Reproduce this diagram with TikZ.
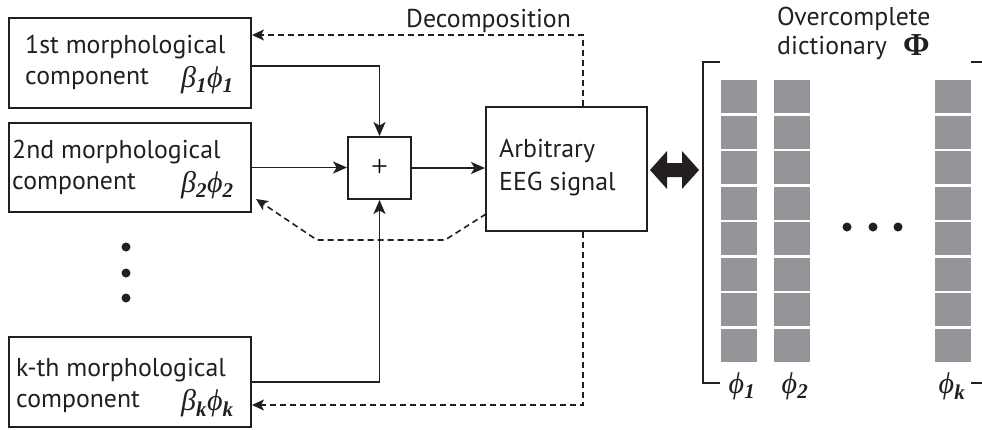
\documentclass[tikz,border=0pt]{standalone}
\usepackage{fontspec}
\setmainfont{PT Sans}
\newfontfamily\tms{Liberation Serif}
\usetikzlibrary{arrows.meta}
\definecolor{ink}{HTML}{231F20}
\definecolor{cellgray}{HTML}{939598}
% coefficient times atom, e.g. beta_1 phi_1
\newcommand\coef[1]{{\tms\itshape β\textsubscript{\bfseries #1}ϕ\textsubscript{\bfseries #1}}}
\newcommand\atom[1]{{\tms\itshape ϕ\textsubscript{\bfseries #1}}}
\begin{document}
\begin{tikzpicture}[x=1pt,y=-1pt,
  box/.style={draw=ink,line width=2pt,minimum width=242pt,inner sep=0pt},
  txt/.style={inner sep=0pt,anchor=base west,font=\fontsize{25.8}{30}\selectfont,text=ink},
  mth/.style={inner sep=0pt,anchor=base west,font=\fontsize{30}{32}\selectfont,text=ink},
  arr/.style={draw=ink,line width=1.9pt,-{Stealth[length=14pt,width=12pt,inset=3.5pt]}},
  darr/.style={draw=ink,line width=1.6pt,dash pattern=on 6pt off 4pt,-{Stealth[length=12pt,width=11pt,inset=3pt]}},
  dot/.style={fill=ink,circle,inner sep=0pt,minimum size=9pt},
  cellbox/.style={fill=cellgray,draw=none,minimum width=36pt,minimum height=33pt,inner sep=0pt}
]
\useasboundingbox (0,0) rectangle (982,429);

% morphological component boxes
\node[box,minimum height=90pt] (b1) at (130,63) {};
\node[box,minimum height=89pt] (b2) at (130,167.5) {};
\node[box,minimum height=90pt] (bk) at (130,382) {};

\node[txt] (t1a) at (25,53) {1st morphological};
\node[txt] (t1b) at (25,84) {component};
\node[mth] (m1) at (181,87) {\coef{1}};
\node[txt] (t2a) at (12,158) {2nd morphological};
\node[txt] (t2b) at (12,189) {component};
\node[mth] (m2) at (181,192) {\coef{2}};
\node[txt] (tka) at (16,376) {k-th morphological};
\node[txt] (tkb) at (16,407) {component};
\node[mth] (mk) at (181,410) {\coef{k}};

% vertical ellipsis between the boxes
\node[dot] (v1) at (126,247) {};
\node[dot] (v2) at (126,273) {};
\node[dot] (v3) at (126,298) {};

% summation and signal
\node[draw=ink,line width=1.9pt,minimum width=63pt,minimum height=62pt,inner sep=0pt,
      font=\fontsize{30}{30}\selectfont\tms] (plus) at (379.5,168) {+};
\node[box,minimum width=161pt,minimum height=124pt] (eeg) at (566.5,169) {};
\node[txt] (e1) at (499,157) {Arbitrary};
\node[txt] (e2) at (499,190) {EEG signal};

% synthesis connectors
\draw[arr] ([yshift=-3pt]b1.east) -| (plus.north);
\draw[arr] (b2.east) -- (b2.east -| plus.west);
\draw[arr] (bk.east) -| (plus.south);
\draw[arr] (plus.east) -- (plus.east -| eeg.west);

% decomposition feedback (dashed)
\coordinate (dtop) at (583,35);
\coordinate (dbot) at (583,405);
\draw[darr] (eeg.north -| dtop) -- (dtop) -- (dtop -| b1.east);
\draw[darr] (eeg.south -| dbot) -- (dbot) -- (dbot -| bk.east);
\coordinate (mA) at (486,214);
\coordinate (mB) at (445,240);
\coordinate (mC) at (317,240);
\coordinate (mD) at (256,199);
\draw[darr] (mA) -- (mB) -- (mC) -- (mD);

\node[txt,anchor=base] (dec) at (488.5,27) {Decomposition};

% two-way arrow between signal and dictionary
\fill[ink] (650,170) -- (667,151) -- (667,163) -- (682,163) -- (682,151) -- (699,170)
  -- (682,189) -- (682,177) -- (667,177) -- (667,189) -- cycle;

% dictionary matrix
\node[txt,anchor=base west] (oc) at (777,25) {Overcomplete};
\node[txt,anchor=base west] (dic) at (777,54) {dictionary};
\node[inner sep=0pt,anchor=base west,font=\fontsize{32}{34}\selectfont\tms\bfseries,text=ink] (Phi) at (903,55) {Φ};

\draw[ink,line width=1.9pt] (720,62) -- (703,62) -- (703,383) -- (720,383);
\draw[ink,line width=1.9pt] (971,62) -- (982,62);
\draw[ink,line width=1.9pt] (971,383) -- (982,383);

\foreach \cx/\nm in {739/a,792/b,953/k}{
  \foreach \i in {0,...,7}{
    \node[cellbox] (c\nm\i) at (\cx,{96.5+35.5*\i}) {};
  }
}
\node[mth,anchor=base] (p1) at (742,393) {\atom{1}};
\node[mth,anchor=base] (p2) at (795,393) {\atom{2}};
\node[mth,anchor=base] (pk) at (952,393) {\atom{k}};

% horizontal ellipsis between columns
\node[dot] (h1) at (847,227) {};
\node[dot] (h2) at (873,227) {};
\node[dot] (h3) at (898,227) {};
\end{tikzpicture}
\end{document}
